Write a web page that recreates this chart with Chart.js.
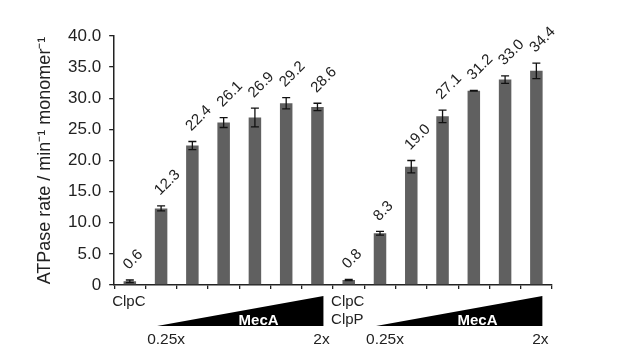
<!DOCTYPE html>
<html><head><meta charset="utf-8">
<script src="https://cdn.jsdelivr.net/npm/chart.js@4.4.0/dist/chart.umd.min.js"></script>
<style>html,body{margin:0;padding:0;background:#fff}#wrap{width:617px;height:359px;position:relative}</style>
</head><body><div id="wrap"><canvas id="c"></canvas></div>
<script>
// ---- data ----
const categories = ['ClpC','ClpC+MecA 0.25x','ClpC+MecA','ClpC+MecA','ClpC+MecA','ClpC+MecA','ClpC+MecA 2x',
                    'ClpC+ClpP','ClpCP+MecA 0.25x','ClpCP+MecA','ClpCP+MecA','ClpCP+MecA','ClpCP+MecA','ClpCP+MecA 2x'];
const rates  = [0.6, 12.3, 22.4, 26.1, 26.9, 29.2, 28.6, 0.8, 8.3, 19.0, 27.1, 31.2, 33.0, 34.4];
const errors = [0.2, 0.4, 0.65, 0.8, 1.5, 0.9, 0.6, 0.1, 0.3, 1.0, 1.0, 0.05, 0.6, 1.25];
const groupLabels = [['ClpC'], ['ClpC','ClpP']];
const groupStart = [0, 7];
const rampStart = [1, 8];
const rampEnd = [6, 13];
const rampName = 'MecA';
const rampLow = '0.25x';
const rampHigh = '2x';
const yTitle = 'ATPase rate / min\u207B\u00B9 monomer\u207B\u00B9';

const FONT = '"Liberation Sans", Arial, sans-serif';
const TXT = '#222';

const overlay = {
  id: 'overlay',
  afterDatasetsDraw(chart) {
    const ctx = chart.ctx, xs = chart.scales.x, ys = chart.scales.y;
    ctx.save();
    ctx.strokeStyle = '#111'; ctx.lineWidth = 1.3;
    rates.forEach((v, i) => {
      const cx = xs.getPixelForValue(i);
      const yt = ys.getPixelForValue(v + errors[i]);
      const yb = ys.getPixelForValue(Math.max(0, v - errors[i]));
      ctx.beginPath();
      ctx.moveTo(cx, yt); ctx.lineTo(cx, yb);
      ctx.moveTo(cx - 4, yt); ctx.lineTo(cx + 4, yt);
      ctx.moveTo(cx - 4, yb); ctx.lineTo(cx + 4, yb);
      ctx.stroke();
      ctx.save();
      ctx.translate(cx - 4, yt - 13);
      ctx.rotate(-Math.PI / 4);
      ctx.font = '15px ' + FONT; ctx.fillStyle = TXT;
      ctx.textAlign = 'left'; ctx.textBaseline = 'middle';
      ctx.fillText(v.toFixed(1), 0, 0);
      ctx.restore();
    });
    ctx.restore();
  },
  afterDraw(chart) {
    const ctx = chart.ctx, xs = chart.scales.x, a = chart.chartArea;
    const base = a.bottom;
    ctx.save();
    ctx.fillStyle = TXT; ctx.font = '15px ' + FONT;
    ctx.textAlign = 'left'; ctx.textBaseline = 'middle';
    const catW = xs.getPixelForValue(1) - xs.getPixelForValue(0);
    groupLabels.forEach((lines, g) => {
      const lx = xs.getPixelForValue(groupStart[g]) - catW / 2 - 2;
      lines.forEach((t, k) => ctx.fillText(t, lx, base + 17 + k * 18));
      const x0 = xs.getPixelForValue(rampStart[g]) - 4;
      const x1 = xs.getPixelForValue(rampEnd[g]) + 6;
      ctx.fillStyle = '#000';
      ctx.beginPath();
      ctx.moveTo(x0, base + 41); ctx.lineTo(x1, base + 11); ctx.lineTo(x1, base + 41); ctx.closePath();
      ctx.fill();
      ctx.fillStyle = '#fff'; ctx.font = 'bold 15px ' + FONT; ctx.textAlign = 'center';
      ctx.fillText(rampName, x0 + (x1 - x0) * 0.61, base + 36);
      ctx.fillStyle = TXT; ctx.font = '15.5px ' + FONT;
      ctx.fillText(rampLow, xs.getPixelForValue(rampStart[g]) + 5, base + 55);
      ctx.fillText(rampHigh, xs.getPixelForValue(rampEnd[g]) + 4, base + 55);
      ctx.font = '15px ' + FONT; ctx.textAlign = 'left';
    });
    ctx.restore();
  }
};

new Chart(document.getElementById('c'), {
  type: 'bar',
  data: {
    labels: categories,
    datasets: [{
      data: rates,
      backgroundColor: '#606060',
      borderWidth: 0,
      barPercentage: 0.4,
      categoryPercentage: 1.0
    }]
  },
  options: {
    responsive: true,
    maintainAspectRatio: false,
    animation: false,
    layout: { padding: { top: 36, right: 65, bottom: 70, left: 34 } },
    plugins: { legend: { display: false }, tooltip: { enabled: false } },
    scales: {
      x: {
        ticks: { display: false },
        grid: { display: true, drawOnChartArea: false, drawTicks: true, tickLength: 4, color: '#222', lineWidth: 1.3 },
        border: { color: '#222', width: 1.5 }
      },
      y: {
        min: 0, max: 40,
        ticks: {
          stepSize: 5, color: TXT, padding: 8,
          font: { family: FONT, size: 17 },
          callback: v => v === 0 ? '0' : Number(v).toFixed(1)
        },
        grid: { display: true, drawOnChartArea: false, drawTicks: true, tickLength: 5, color: '#222', lineWidth: 1.3 },
        border: { color: '#222', width: 1.5 },
        title: { display: true, text: yTitle, color: TXT, font: { family: FONT, size: 18 }, padding: { top: 0, bottom: 4.5 } }
      }
    }
  },
  plugins: [overlay]
});
</script></body></html>
